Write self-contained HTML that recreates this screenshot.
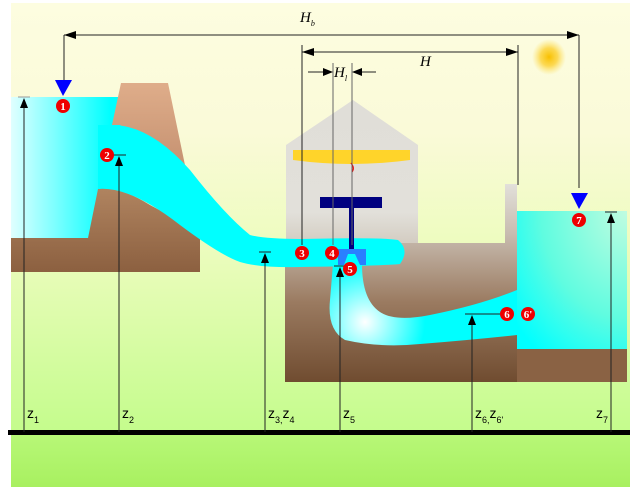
<!DOCTYPE html>
<html><head><meta charset="utf-8"><style>
html,body{margin:0;padding:0;background:#fff;}
svg{display:block}
text{font-family:"Liberation Serif",serif;font-style:italic;fill:#000}
.z{font-family:"Liberation Sans",sans-serif;font-style:normal}
</style></head><body>
<svg width="630" height="487" viewBox="0 0 630 487" xmlns="http://www.w3.org/2000/svg">
<defs>
<linearGradient id="sky" x1="0" y1="0" x2="0" y2="1">
<stop offset="0" stop-color="#fdfde0"/><stop offset="0.3" stop-color="#fafad8"/><stop offset="0.55" stop-color="#eefcc0"/><stop offset="1" stop-color="#c4fc8c"/></linearGradient>
<linearGradient id="gnd" x1="0" y1="0" x2="0" y2="1"><stop offset="0" stop-color="#b8f878"/><stop offset="1" stop-color="#a8f060"/></linearGradient>
<linearGradient id="res" x1="0" y1="0" x2="1" y2="0"><stop offset="0" stop-color="#e0ffff"/><stop offset="0.9" stop-color="#00ffff"/></linearGradient>
<linearGradient id="dam" x1="0" y1="0" x2="0" y2="1"><stop offset="0" stop-color="#dfad8a"/><stop offset="1" stop-color="#c49070"/></linearGradient>
<linearGradient id="earth" x1="0" y1="0" x2="0" y2="1"><stop offset="0" stop-color="#b08460"/><stop offset="1" stop-color="#8c6040"/></linearGradient>
<linearGradient id="base" x1="0" y1="0" x2="0" y2="1"><stop offset="0" stop-color="#e2e0da"/><stop offset="0.25" stop-color="#c8bcb0"/><stop offset="0.6" stop-color="#9a7a60"/><stop offset="1" stop-color="#704c30"/></linearGradient>
<linearGradient id="house" x1="0" y1="0" x2="0" y2="1"><stop offset="0" stop-color="#e0ded8"/><stop offset="0.75" stop-color="#e2e0da"/><stop offset="1" stop-color="#d0c8bc"/></linearGradient>
<radialGradient id="tail" cx="1" cy="0" r="1.3"><stop offset="0" stop-color="#c0fce0"/><stop offset="0.6" stop-color="#60fce0"/><stop offset="1" stop-color="#00ffff"/></radialGradient>
<radialGradient id="draft" cx="365" cy="322" r="60" gradientUnits="userSpaceOnUse"><stop offset="0" stop-color="#ffffff"/><stop offset="1" stop-color="#00ffff"/></radialGradient>
<radialGradient id="sun"><stop offset="0" stop-color="#f8c000"/><stop offset="0.5" stop-color="#fcd030" stop-opacity="0.8"/><stop offset="1" stop-color="#fde060" stop-opacity="0"/></radialGradient>
</defs>
<rect x="11" y="3" width="619" height="430" fill="url(#sky)"/>
<rect x="11" y="433" width="619" height="54" fill="url(#gnd)"/>
<ellipse cx="549" cy="57" rx="17" ry="18" fill="url(#sun)"/>
<rect x="11" y="97" width="110" height="142" fill="url(#res)"/>
<polygon points="121,83 168,83 186,170 120,125 112,125" fill="url(#dam)"/>
<path d="M11,238 L88,238 L98,189 Q118,185 150,205 L200,232 L200,272 L11,272 Z" fill="url(#earth)"/>
<polygon points="286,145 353,100 418,145 418,250 286,250" fill="url(#house)"/>
<polygon points="285,243 505,243 505,184 517,184 517,382 285,382" fill="url(#base)"/>
<rect x="517" y="211" width="110" height="138" fill="url(#tail)"/>
<rect x="517" y="349" width="110" height="33" fill="#8a6244"/>
<path d="M112,125 Q150,125 190,170 Q225,215 250,235 Q265,239 300,239 Q380,237 398,240 Q410,250 400,264 Q380,266 300,267 Q260,268 240,262 Q220,255 180,225 Q130,186 98,189 L98,125 Z" fill="#00ffff"/>
<path d="M333,264 L362,264 Q362,300 380,312 Q395,322 430,315 Q480,305 517,290 L517,335 Q470,340 420,344 Q380,348 345,340 Q327,330 330,300 Z" fill="url(#draft)"/>
<path d="M293,150 L410,150 L410,160 Q352,168 293,160 Z" fill="#ffd42a"/>
<path d="M351,163 Q355,168 352,172" stroke="#e00" stroke-width="1.2" fill="none"/>
<rect x="320" y="197" width="62" height="11" fill="#000080"/>
<rect x="349" y="208" width="5" height="42" fill="#000080"/>
<path d="M338,249 L366,249 L366,265 L360,265 L355,254 L348,254 L344,265 L338,265 Z" fill="#2a7fff"/>
<rect x="8" y="430" width="622" height="5" fill="#000"/>
<g stroke="#222" stroke-width="1" fill="none">
<line x1="64" y1="35" x2="579" y2="35"/><line x1="64" y1="35" x2="64" y2="85"/><line x1="579" y1="35" x2="579" y2="188"/>
<line x1="302" y1="52" x2="518" y2="52"/><line x1="302" y1="45" x2="302" y2="245"/><line x1="518" y1="45" x2="518" y2="185"/>
<line x1="333" y1="63" x2="333" y2="245" stroke="#666"/><line x1="352" y1="63" x2="352" y2="245" stroke="#666"/>
<line x1="308" y1="72" x2="330" y2="72"/><line x1="355" y1="72" x2="376" y2="72"/>
<line x1="24" y1="432" x2="24" y2="100"/><line x1="18" y1="97" x2="30" y2="97" stroke="#999"/>
<line x1="119" y1="432" x2="119" y2="158"/><line x1="113" y1="155" x2="126" y2="155"/>
<line x1="265" y1="432" x2="265" y2="255"/><line x1="259" y1="252" x2="271" y2="252"/>
<line x1="340" y1="432" x2="340" y2="269"/><line x1="334" y1="266" x2="346" y2="266"/>
<line x1="472" y1="432" x2="472" y2="317"/><line x1="465" y1="314" x2="500" y2="314"/>
<line x1="611" y1="432" x2="611" y2="215"/><line x1="605" y1="212" x2="617" y2="212"/>
</g>
<g fill="#000">
<polygon points="64,35 76,31 76,39"/><polygon points="579,35 567,31 567,39"/>
<polygon points="302,52 314,48 314,56"/><polygon points="518,52 506,48 506,56"/>
<polygon points="333,72 323,68 323,76"/><polygon points="352,72 362,68 362,76"/>
<polygon points="24,98 20,108 28,108"/><polygon points="119,156 115,166 123,166"/>
<polygon points="265,253 261,263 269,263"/><polygon points="340,267 336,277 344,277"/>
<polygon points="472,315 468,325 476,325"/><polygon points="611,213 607,223 615,223"/>
</g>
<polygon points="55,80 72,80 63,96" fill="#0000ff"/>
<polygon points="571,193 588,193 579,209" fill="#0000ff"/>
<g font-family="Liberation Sans,sans-serif" font-size="11" font-weight="bold" text-anchor="middle">
<circle cx="63" cy="106" r="7" fill="#e00"/><text x="63" y="110" style="font-style:normal;fill:#fff">1</text>
<circle cx="107" cy="155" r="7" fill="#e00"/><text x="107" y="159" style="font-style:normal;fill:#fff">2</text>
<circle cx="302" cy="253" r="7" fill="#e00"/><text x="302" y="257" style="font-style:normal;fill:#fff">3</text>
<circle cx="332" cy="253" r="7" fill="#e00"/><text x="332" y="257" style="font-style:normal;fill:#fff">4</text>
<circle cx="350" cy="269" r="7" fill="#e00"/><text x="350" y="273" style="font-style:normal;fill:#fff">5</text>
<circle cx="507" cy="314" r="7" fill="#e00"/><text x="507" y="318" style="font-style:normal;fill:#fff">6</text>
<circle cx="528" cy="314" r="7" fill="#e00"/><text x="528" y="318" style="font-style:normal;fill:#fff">6'</text>
<circle cx="579" cy="220" r="7" fill="#e00"/><text x="579" y="224" style="font-style:normal;fill:#fff">7</text>
</g>
<text x="300" y="22" font-size="15">H<tspan font-size="8" dy="4">b</tspan></text>
<text x="420" y="66" font-size="15">H</text>
<text x="334" y="77" font-size="15">H<tspan font-size="8" dy="4">l</tspan></text>
<g font-size="14">
<text class="z" x="27" y="418">z<tspan font-size="9" dy="5">1</tspan></text>
<text class="z" x="122" y="418">z<tspan font-size="9" dy="5">2</tspan></text>
<text class="z" x="268" y="418">z<tspan font-size="9" dy="5">3,</tspan><tspan dy="-5">z</tspan><tspan font-size="9" dy="5">4</tspan></text>
<text class="z" x="343" y="418">z<tspan font-size="9" dy="5">5</tspan></text>
<text class="z" x="475" y="418">z<tspan font-size="9" dy="5">6,</tspan><tspan dy="-5">z</tspan><tspan font-size="9" dy="5">6'</tspan></text>
<text class="z" x="596" y="418">z<tspan font-size="9" dy="5">7</tspan></text>
</g>
</svg>
</body></html>
